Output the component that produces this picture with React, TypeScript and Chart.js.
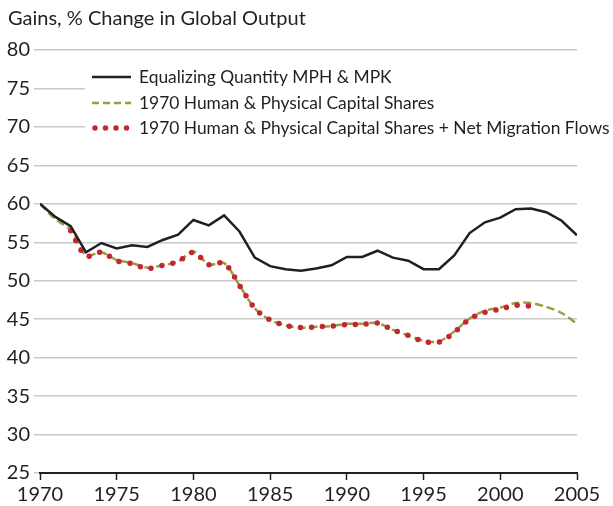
import React, { useEffect, useRef } from "react";
import { Chart, registerables } from "chart.js";

Chart.register(...registerables);

const years = [1970,1971,1972,1973,1974,1975,1976,1977,1978,1979,1980,1981,1982,1983,1984,1985,1986,1987,1988,1989,1990,1991,1992,1993,1994,1995,1996,1997,1998,1999,2000,2001,2002,2003,2004,2005];

const equalizing = [60.0,58.3,57.1,53.7,54.9,54.2,54.6,54.4,55.3,56.0,57.9,57.2,58.5,56.4,53.0,51.9,51.5,51.3,51.6,52.0,53.1,53.1,53.9,53.0,52.6,51.5,51.5,53.3,56.2,57.6,58.2,59.3,59.4,58.9,57.8,55.9];

const shares1970 = [60.0,58.0,56.6,53.3,53.7,52.7,52.3,51.7,52.0,52.5,53.8,52.1,52.3,49.4,46.4,44.9,44.2,43.9,44.0,44.1,44.4,44.4,44.5,43.6,42.9,42.2,42.1,43.4,45.1,46.1,46.5,47.1,47.1,46.6,45.8,44.4];

const sharesMigration = [null,null,56.5,53.2,53.7,52.6,52.2,51.6,52.0,52.5,53.7,52.1,52.3,49.4,46.4,44.9,44.2,43.9,44.0,44.1,44.3,44.3,44.5,43.6,42.9,42.1,42.0,43.3,45.0,45.9,46.3,46.8,46.7,null,null,null];

const yTicks = [25,30,35,40,45,50,55,60,65,70,75,80];
const xTicks = [1970,1975,1980,1985,1990,1995,2000,2005];

const titleText = "Gains, % Change in Global Output";
const seriesLabels = [
  "Equalizing Quantity MPH & MPK",
  "1970 Human & Physical Capital Shares",
  "1970 Human & Physical Capital Shares + Net Migration Flows",
];

const FONT = "Lato, 'Noto Sans', sans-serif";
const TEXT = "#231f20";
const BLACK = "#231f20";
const GREEN = "#9d9c46";
const RED = "#c1272d";

export default function App() {
  const ref = useRef<HTMLCanvasElement | null>(null);

  useEffect(() => {
    if (!ref.current) return;
    const overlay = {
      id: "overlay",
      beforeDatasetsDraw(chart: any) {
        const ctx = chart.ctx;
        ctx.save();
        ctx.fillStyle = "#ffffff";
        ctx.fillRect(85, 64, 528, 76);
        ctx.restore();
      },
      afterDraw(chart: any) {
        const ctx = chart.ctx;
        ctx.save();
        ctx.fillStyle = TEXT;
        ctx.font = `20px ${FONT}`;
        ctx.textBaseline = "middle";
        ctx.textAlign = "left";
        ctx.fillText(titleText, 8, 19);
        const rows = [77, 103, 128];
        const styles = [
          { color: BLACK, width: 2.5, dash: [] as number[], cap: "butt" },
          { color: GREEN, width: 2.5, dash: [7, 4], cap: "butt" },
          { color: RED, width: 5.5, dash: [0, 10.5], cap: "round" },
        ];
        seriesLabels.forEach((lab, i) => {
          const y = rows[i];
          const s = styles[i];
          ctx.beginPath();
          ctx.strokeStyle = s.color;
          ctx.lineWidth = s.width;
          ctx.setLineDash(s.dash);
          ctx.lineCap = s.cap as CanvasLineCap;
          if (i === 2) {
            ctx.moveTo(95, y);
            ctx.lineTo(130, y);
          } else {
            ctx.moveTo(92, y);
            ctx.lineTo(131, y);
          }
          ctx.stroke();
          ctx.setLineDash([]);
          ctx.font = `17.4px ${FONT}`;
          ctx.fillStyle = TEXT;
          ctx.fillText(lab, 139, y);
        });
        ctx.restore();
      },
    };

    const chart = new Chart(ref.current, {
      type: "line",
      data: {
        datasets: [
          {
            label: seriesLabels[0],
            data: years.map((x, i) => ({ x, y: equalizing[i] })),
            borderColor: BLACK,
            borderWidth: 2.5,
            pointRadius: 0,
            tension: 0,
            order: 0,
          },
          {
            label: seriesLabels[1],
            data: years.map((x, i) => ({ x, y: shares1970[i] })),
            borderColor: GREEN,
            borderWidth: 2.5,
            borderDash: [8, 4],
            pointRadius: 0,
            tension: 0.3,
            order: 2,
          },
          {
            label: seriesLabels[2],
            data: years.map((x, i) => ({ x, y: sharesMigration[i] })),
            borderColor: RED,
            borderWidth: 5.5,
            borderDash: [0, 11],
            borderCapStyle: "round",
            pointRadius: 0,
            tension: 0.3,
            spanGaps: false,
            order: 1,
          },
        ] as any,
      },
      plugins: [overlay],
      options: {
        animation: false,
        responsive: false,
        maintainAspectRatio: false,
        layout: { padding: { top: 50, right: 36, left: 0, bottom: 0 } },
        plugins: {
          legend: { display: false },
          title: { display: false },
          tooltip: { enabled: false },
        },
        scales: {
          x: {
            type: "linear",
            min: 1970,
            max: 2005,
            afterBuildTicks(scale: any) {
              scale.ticks = xTicks.map((v) => ({ value: v }));
            },
            afterFit(scale: any) {
              scale.height = 33;
            },
            ticks: {
              font: { family: FONT, size: 20 },
              color: TEXT,
              padding: 3,
              maxRotation: 0,
              autoSkip: false,
              callback: (v: any) => String(v),
            },
            grid: {
              drawOnChartArea: false,
              drawTicks: true,
              tickLength: 7,
              tickWidth: 1.5,
              tickColor: BLACK,
            },
            border: { display: true, color: BLACK, width: 2 },
          },
          y: {
            type: "linear",
            min: 25,
            max: 80,
            afterBuildTicks(scale: any) {
              scale.ticks = yTicks.map((v) => ({ value: v }));
            },
            afterFit(scale: any) {
              scale.width = 40;
            },
            ticks: {
              font: { family: FONT, size: 20 },
              color: TEXT,
              padding: 4,
              callback: (v: any) => String(v),
            },
            grid: {
              color: "#c8c8c8",
              lineWidth: 1.5,
              drawTicks: true,
              tickLength: 6,
            },
            border: { display: false },
          },
        },
      } as any,
    });
    return () => chart.destroy();
  }, []);

  return (
    <div style={{ position: "fixed", left: 0, top: 0, width: 613, height: 506, background: "#fff" }}>
      <canvas ref={ref} width={613} height={506} style={{ width: 613, height: 506 }} />
    </div>
  );
}
